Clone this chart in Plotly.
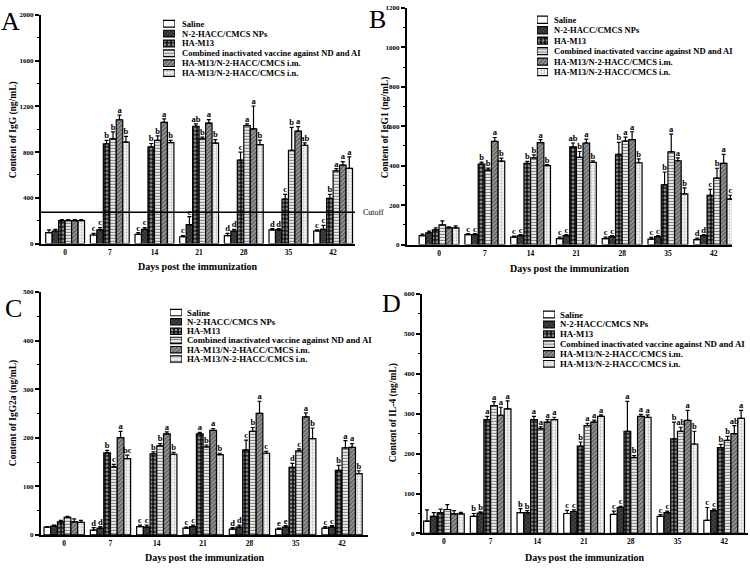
import plotly.graph_objects as go

days = ["0", "7", "14", "21", "28", "35", "42"]
series = ["Saline", "N-2-HACC/CMCS NPs", "HA-M13",
          "Combined inactivated vaccine against ND and AI",
          "HA-M13/N-2-HACC/CMCS i.m.", "HA-M13/N-2-HACC/CMCS i.n."]

# ---------- Panel A : IgG ----------
igg_mean = [
    [95, 75, 80, 60, 70, 120, 110],
    [110, 120, 125, 165, 110, 120, 125],
    [200, 873, 845, 1026, 730, 390, 395],
    [200, 916, 902, 916, 1032, 816, 635],
    [200, 1083, 1060, 1054, 1003, 983, 687],
    [200, 888, 882, 879, 865, 860, 658],
]
igg_err = [
    [25, 15, 15, 10, 20, 10, 10],
    [15, 20, 15, 70, 15, 10, 35],
    [10, 30, 30, 20, 70, 40, 35],
    [10, 60, 40, 15, 15, 200, 20],
    [10, 40, 30, 30, 200, 40, 30],
    [10, 50, 20, 30, 40, 20, 100],
]
igg_sig = [
    ["", "c", "c", "c", "d", "d", "c"],
    ["", "c", "c", "c", "d", "d", "c"],
    ["", "b", "b", "ab", "c", "c", "b"],
    ["", "b", "b", "b", "a", "b", "a"],
    ["", "a", "a", "a", "a", "a", "a"],
    ["", "b", "b", "b", "b", "ab", "a"],
]
igg_cutoff = 275

# ---------- Panel B : IgG1 ----------
igg1_mean = [
    [45, 50, 38, 30, 30, 28, 25],
    [60, 50, 45, 45, 40, 40, 45],
    [75, 408, 412, 495, 458, 303, 250],
    [100, 378, 440, 442, 525, 470, 337],
    [85, 523, 517, 515, 532, 425, 412],
    [85, 423, 400, 417, 415, 257, 230],
]
igg1_err = [
    [8, 5, 5, 8, 8, 8, 8],
    [8, 5, 5, 5, 5, 5, 5],
    [10, 10, 10, 20, 60, 65, 30],
    [20, 10, 15, 30, 20, 90, 50],
    [5, 20, 15, 20, 40, 15, 45],
    [10, 15, 5, 8, 20, 30, 20],
]
igg1_sig = [
    ["", "c", "c", "c", "c", "c", "d"],
    ["", "c", "c", "c", "c", "c", "d"],
    ["", "b", "b", "ab", "b", "b", "c"],
    ["", "b", "b", "b", "a", "a", "b"],
    ["", "a", "a", "a", "a", "a", "a"],
    ["", "b", "b", "b", "b", "b", "c"],
]

# ---------- Panel C : IgG2a ----------
igg2a_mean = [
    [16, 10, 17, 14, 12, 12, 14],
    [18, 14, 16, 17, 16, 16, 16],
    [27, 169, 167, 208, 175, 139, 133],
    [36, 140, 183, 181, 213, 173, 179],
    [27, 200, 208, 215, 250, 243, 180],
    [26, 157, 166, 165, 168, 198, 126],
]
igg2a_err = [
    [1, 5, 3, 2, 3, 2, 3],
    [2, 3, 4, 3, 4, 3, 3],
    [3, 5, 4, 3, 20, 8, 10],
    [2, 5, 5, 4, 8, 4, 15],
    [6, 13, 4, 4, 25, 8, 8],
    [4, 7, 4, 3, 4, 22, 6],
]
igg2a_sig = [
    ["", "d", "c", "c", "d", "e", "c"],
    ["", "d", "c", "c", "d", "e", "c"],
    ["", "b", "b", "a", "c", "d", "b"],
    ["", "c", "b", "b", "b", "c", "a"],
    ["", "a", "a", "a", "a", "a", "a"],
    ["", "bc", "b", "b", "c", "b", "b"],
]

# ---------- Panel D : IL-4 ----------
il4_mean = [
    [31, 43, 52, 50, 48, 43, 33],
    [43, 51, 52, 55, 65, 52, 57],
    [52, 285, 285, 219, 256, 237, 215],
    [60, 320, 262, 270, 190, 256, 233],
    [49, 296, 279, 279, 293, 283, 250],
    [49, 312, 285, 293, 291, 224, 288],
]
il4_err = [
    [28, 7, 10, 8, 8, 4, 32],
    [9, 3, 5, 4, 3, 4, 4],
    [9, 8, 8, 10, 75, 42, 8],
    [12, 10, 5, 6, 5, 10, 10],
    [8, 20, 6, 5, 5, 25, 20],
    [4, 20, 6, 4, 6, 32, 20],
]
il4_sig = [
    ["", "b", "b", "c", "c", "c", "c"],
    ["", "b", "b", "c", "c", "c", "c"],
    ["", "a", "a", "b", "a", "b", "b"],
    ["", "a", "a", "a", "b", "ab", "b"],
    ["", "a", "a", "a", "a", "a", "ab"],
    ["", "a", "a", "a", "a", "b", "a"],
]

W = 750.0
H = 569.0
SERIF = "Liberation Serif"

styles = [
    dict(color="white", pattern=dict(shape="")),
    dict(color="#3c3c3c", pattern=dict(shape="x", fgcolor="#000000", bgcolor="#4a4a4a", size=3, solidity=0.5)),
    dict(color="#111111", pattern=dict(shape=".", fgcolor="#ffffff", bgcolor="#111111", size=4, solidity=0.4)),
    dict(color="white", pattern=dict(shape="-", fgcolor="#000000", bgcolor="#ffffff", size=3, solidity=0.45)),
    dict(color="#888888", pattern=dict(shape="/", fgcolor="#1a1a1a", bgcolor="#9a9a9a", size=3, solidity=0.45)),
    dict(color="white", pattern=dict(shape=".", fgcolor="#888888", bgcolor="#f4f4f4", size=3, solidity=0.3)),
]

# legend boxes: swatch left/right, text start x, first/last item centre y (pixels)
panels = [
    dict(mean=igg_mean, err=igg_err, sig=igg_sig, ymax=2000, dt=400, minor=200,
         xd=[41/W, 355/W], yd=[1-243/H, 1-11/H], xr=[-0.54, 6.49],
         ytitle="Content of IgG (ng/mL)", ytx=13, yty=128, xtx=198, xty=266,
         letter="A", lx=10.5, ly=18, leg=(163, 175, 180, 20, 70), legfs=8.5),
    dict(mean=igg1_mean, err=igg1_err, sig=igg1_sig, ymax=1200, dt=200, minor=100,
         xd=[407/W, 732/W], yd=[1-244/H, 1-4/H], xr=[-0.7, 6.4],
         ytitle="Content of IgG1 (ng/mL)", ytx=385, yty=125, xtx=570, xty=268,
         letter="B", lx=377, ly=16, leg=(537, 548, 552, 16, 69), legfs=8.5),
    dict(mean=igg2a_mean, err=igg2a_err, sig=igg2a_sig, ymax=500, dt=100, minor=50,
         xd=[41/W, 368/W], yd=[1-538.5/H, 1-292/H], xr=[-0.5, 6.56],
         ytitle="Content of IgG2a (ng/mL)", ytx=13, yty=415, xtx=205, xty=561,
         letter="C", lx=13, ly=309, leg=(170, 182, 185, 313, 360), legfs=8.8),
    dict(mean=il4_mean, err=il4_err, sig=il4_sig, ymax=600, dt=100, minor=50,
         xd=[422/W, 748/W], yd=[1-537/H, 1-294/H], xr=[-0.47, 6.51],
         ytitle="Content of IL-4 (ng/mL)", ytx=393, yty=415, xtx=585, xty=561,
         letter="D", lx=392, ly=304, leg=(543, 555, 558, 315, 365), legfs=8.8),
]

BW = 0.145
fig = go.Figure()
annotations = []
shapes = []
layout = {}
n_series = len(series)

for p_i, p in enumerate(panels):
    sfx = "" if p_i == 0 else str(p_i + 1)
    xa, ya = "x" + sfx, "y" + sfx
    for s_i, name in enumerate(series):
        offs = (s_i - 2.5) * BW
        xs = [g + offs for g in range(len(days))]
        st = styles[s_i]
        fig.add_trace(go.Bar(
            x=xs, y=p["mean"][s_i], width=BW, name=name,
            xaxis=xa, yaxis=ya, showlegend=False,
            marker=dict(color=st["color"], pattern=st["pattern"],
                        line=dict(color="black", width=1.2)),
            error_y=dict(type="data", array=p["err"][s_i], arrayminus=[0]*len(days),
                         symmetric=False, color="black", thickness=1.2, width=2),
        ))
        fig.add_trace(go.Scatter(
            x=xs, y=[m + e for m, e in zip(p["mean"][s_i], p["err"][s_i])],
            text=p["sig"][s_i], mode="text", textposition="top center",
            textfont=dict(family=SERIF, size=8.5, color="#000000", weight="bold"),
            xaxis=xa, yaxis=ya, showlegend=False, hoverinfo="skip", cliponaxis=False,
        ))
    layout["xaxis" + sfx] = dict(
        domain=p["xd"], range=p["xr"], anchor=ya,
        tickvals=list(range(len(days))), ticktext=days,
        showline=True, linecolor="black", linewidth=2, ticks="", showgrid=False,
        zeroline=False, tickfont=dict(family=SERIF, size=7.5, color="black", weight="bold"),
    )
    layout["yaxis" + sfx] = dict(
        domain=p["yd"], range=[0, p["ymax"]], anchor=xa,
        tickvals=list(range(0, p["ymax"] + 1, p["dt"])),
        showline=True, linecolor="black", linewidth=2, ticks="outside", ticklen=4,
        tickwidth=1.5, tickcolor="black", showgrid=False, zeroline=False,
        minor=dict(tickvals=list(range(p["minor"], p["ymax"], p["dt"])),
                   ticks="outside", ticklen=2.5, tickwidth=1.2, tickcolor="black"),
        tickfont=dict(family=SERIF, size=7, color="black", weight="bold"),
    )

    # compact legend drawn with small bar swatches on a hidden axis pair
    lsfx = str(p_i + 5)
    sw_l, sw_r, tx, y0, y1 = p["leg"]
    step = (y1 - y0) / (n_series - 1)
    layout["xaxis" + lsfx] = dict(domain=[sw_l/W, sw_r/W], range=[0, 1], visible=False,
                                  anchor="y" + lsfx, fixedrange=True)
    layout["yaxis" + lsfx] = dict(domain=[1-(y1 + step/2)/H, 1-(y0 - step/2)/H],
                                  range=[n_series - 0.5, -0.5], visible=False,
                                  anchor="x" + lsfx, fixedrange=True)
    for s_i, name in enumerate(series):
        st = styles[s_i]
        fig.add_trace(go.Bar(
            x=[1], y=[s_i], orientation="h", width=0.68, base=0,
            xaxis="x" + lsfx, yaxis="y" + lsfx, showlegend=False, hoverinfo="skip",
            marker=dict(color=st["color"], pattern=st["pattern"],
                        line=dict(color="black", width=1.2)),
        ))
        annotations.append(dict(text=name, xref="paper", yref="y" + lsfx,
                                x=tx/W, y=s_i, xanchor="left", yanchor="middle",
                                showarrow=False,
                                font=dict(family=SERIF, size=p["legfs"], color="black",
                                          weight="bold")))

    annotations.append(dict(text=p["ytitle"], x=p["ytx"]/W, y=1-p["yty"]/H,
                            xref="paper", yref="paper", xanchor="center", yanchor="middle",
                            textangle=-90, showarrow=False,
                            font=dict(family=SERIF, size=9.5, color="black", weight="bold")))
    annotations.append(dict(text="Days post the immunization", x=p["xtx"]/W, y=1-p["xty"]/H,
                            xref="paper", yref="paper", xanchor="center", yanchor="middle",
                            showarrow=False,
                            font=dict(family=SERIF, size=10, color="black", weight="bold")))
    annotations.append(dict(text=p["letter"], x=p["lx"]/W, y=1-p["ly"]/H,
                            xref="paper", yref="paper", xanchor="center", yanchor="middle",
                            showarrow=False, borderpad=0,
                            font=dict(family=SERIF, size=26, color="black")))

shapes.append(dict(type="line", xref="x domain", yref="y", x0=0, x1=1.0,
                   y0=igg_cutoff, y1=igg_cutoff, line=dict(color="black", width=1.5)))
annotations.append(dict(text="Cutoff", xref="x domain", yref="y", x=1.02, y=igg_cutoff,
                        xanchor="left", yanchor="middle", showarrow=False,
                        font=dict(family=SERIF, size=8, color="black")))

fig.update_layout(
    width=750, height=569, margin=dict(l=0, r=0, t=0, b=0),
    paper_bgcolor="white", plot_bgcolor="white", barmode="overlay",
    annotations=annotations, shapes=shapes, **layout,
)

fig.write_html("out.html")
